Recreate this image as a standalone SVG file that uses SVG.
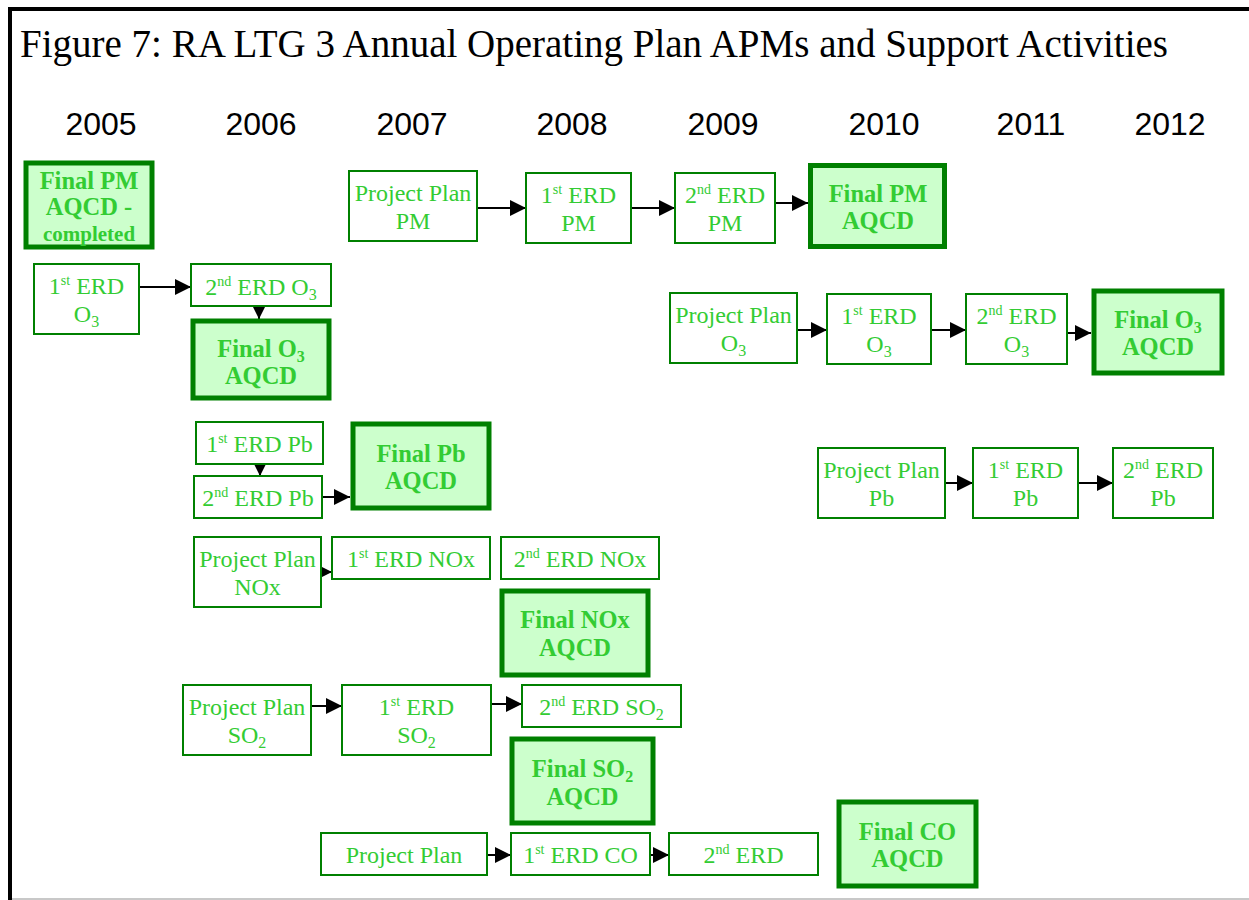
<svg xmlns="http://www.w3.org/2000/svg" width="1249" height="900" viewBox="0 0 1249 900">
<style>
.box{fill:#ffffff;stroke:#008000;stroke-width:2}
.fin{fill:#ccffcc;stroke:#008000;stroke-width:5}
.t{font-family:"Liberation Serif","Times New Roman",serif;font-size:24px;fill:#33cc33;text-anchor:middle}
.b{font-weight:bold;font-size:24.5px}
.sup{font-size:14px}
.sub{font-size:16px}
.yr{font-family:"Liberation Sans",Arial,sans-serif;font-size:32px;fill:#000;text-anchor:middle}
.ttl{font-family:"Liberation Serif","Times New Roman",serif;font-size:39px;fill:#000}
.c{stroke:#000;stroke-width:2;fill:none}
</style>
<defs>
<marker id="ah" markerWidth="16" markerHeight="16" refX="16" refY="8" orient="auto" markerUnits="userSpaceOnUse"><path d="M0,0 L16,8 L0,16 z" fill="#000"/></marker>
<marker id="ahs" markerWidth="12" markerHeight="12" refX="12" refY="6" orient="auto" markerUnits="userSpaceOnUse"><path d="M0,0 L12,6 L0,12 z" fill="#000"/></marker>
</defs>
<rect x="0" y="0" width="1249" height="900" fill="#fff"/>
<g id="frame">
<line x1="8" y1="9" x2="1249" y2="9" stroke="#000" stroke-width="4"/>
<line x1="10" y1="7" x2="10" y2="900" stroke="#000" stroke-width="4"/>
<line x1="12" y1="899" x2="1249" y2="899" stroke="#c8c8c8" stroke-width="2"/>
</g>
<text class="ttl" x="20" y="57">Figure 7: RA LTG 3 Annual Operating Plan APMs and Support Activities</text>
<g id="years">
<text class="yr" x="101" y="135">2005</text>
<text class="yr" x="261" y="135">2006</text>
<text class="yr" x="412" y="135">2007</text>
<text class="yr" x="572" y="135">2008</text>
<text class="yr" x="723" y="135">2009</text>
<text class="yr" x="884" y="135">2010</text>
<text class="yr" x="1031" y="135">2011</text>
<text class="yr" x="1170" y="135">2012</text>
</g>
<g id="connectors">
<line class="c" x1="139" y1="287" x2="191" y2="287" marker-end="url(#ah)"/>
<line class="c" x1="259" y1="306" x2="259" y2="319" marker-end="url(#ahs)"/>
<line class="c" x1="477" y1="208" x2="526" y2="208" marker-end="url(#ah)"/>
<line class="c" x1="631" y1="208" x2="675" y2="208" marker-end="url(#ah)"/>
<line class="c" x1="775" y1="203" x2="808" y2="203" marker-end="url(#ah)"/>
<line class="c" x1="797" y1="330" x2="827" y2="330" marker-end="url(#ah)"/>
<line class="c" x1="931" y1="330" x2="966" y2="330" marker-end="url(#ah)"/>
<line class="c" x1="1067" y1="333" x2="1091" y2="333" marker-end="url(#ah)"/>
<line class="c" x1="945" y1="483" x2="973" y2="483" marker-end="url(#ah)"/>
<line class="c" x1="1078" y1="483" x2="1113" y2="483" marker-end="url(#ah)"/>
<line class="c" x1="260" y1="464" x2="260" y2="476" marker-end="url(#ahs)"/>
<line class="c" x1="322" y1="497" x2="350" y2="497" marker-end="url(#ah)"/>
<line class="c" x1="321" y1="572" x2="332" y2="572" marker-end="url(#ahs)"/>
<line class="c" x1="311" y1="706" x2="342" y2="706" marker-end="url(#ah)"/>
<line class="c" x1="491" y1="704" x2="522" y2="704" marker-end="url(#ah)"/>
<line class="c" x1="487" y1="855" x2="511" y2="855" marker-end="url(#ah)"/>
<line class="c" x1="650" y1="855" x2="669" y2="855" marker-end="url(#ah)"/>
</g>
<g id="n1"><rect class="fin" x="26" y="163" width="126" height="84"/>
<text class="t b" x="89" y="189">Final PM</text><text class="t b" x="89" y="215">AQCD -</text><text class="t b" x="89" y="241" style="font-size:21px">completed</text></g>
<g id="n2"><rect class="box" x="34" y="264" width="105" height="70"/>
<text class="t" x="86.5" y="294">1<tspan class="sup" dy="-9">st</tspan><tspan dy="9"> ERD</tspan></text><text class="t" x="86.5" y="322">O<tspan class="sub" dy="5">3</tspan></text></g>
<g id="n3"><rect class="box" x="191" y="264" width="140" height="42"/>
<text class="t" x="261" y="295">2<tspan class="sup" dy="-9">nd</tspan><tspan dy="9"> ERD O</tspan><tspan class="sub" dy="5">3</tspan></text></g>
<g id="n4"><rect class="fin" x="193" y="321" width="136" height="77"/>
<text class="t b" x="261" y="357">Final O<tspan class="sub" dy="5">3</tspan></text><text class="t b" x="261" y="384">AQCD</text></g>
<g id="n5"><rect class="box" x="349" y="171" width="128" height="70"/>
<text class="t" x="413" y="201">Project Plan</text><text class="t" x="413" y="229">PM</text></g>
<g id="n6"><rect class="box" x="526" y="173" width="105" height="70"/>
<text class="t" x="578.5" y="203">1<tspan class="sup" dy="-9">st</tspan><tspan dy="9"> ERD</tspan></text><text class="t" x="578.5" y="231">PM</text></g>
<g id="n7"><rect class="box" x="675" y="173" width="100" height="70"/>
<text class="t" x="725" y="203">2<tspan class="sup" dy="-9">nd</tspan><tspan dy="9"> ERD</tspan></text><text class="t" x="725" y="231">PM</text></g>
<g id="n8"><rect class="fin" x="810.5" y="165.5" width="134" height="81"/>
<text class="t b" x="878" y="202">Final PM</text><text class="t b" x="878" y="229">AQCD</text></g>
<g id="n9"><rect class="box" x="670" y="293" width="127" height="70"/>
<text class="t" x="733.5" y="323">Project Plan</text><text class="t" x="733.5" y="351">O<tspan class="sub" dy="5">3</tspan></text></g>
<g id="n10"><rect class="box" x="827" y="294" width="104" height="70"/>
<text class="t" x="879" y="324">1<tspan class="sup" dy="-9">st</tspan><tspan dy="9"> ERD</tspan></text><text class="t" x="879" y="352">O<tspan class="sub" dy="5">3</tspan></text></g>
<g id="n11"><rect class="box" x="966" y="294" width="101" height="70"/>
<text class="t" x="1016.5" y="324">2<tspan class="sup" dy="-9">nd</tspan><tspan dy="9"> ERD</tspan></text><text class="t" x="1016.5" y="352">O<tspan class="sub" dy="5">3</tspan></text></g>
<g id="n12"><rect class="fin" x="1094" y="291" width="128" height="82"/>
<text class="t b" x="1158" y="328">Final O<tspan class="sub" dy="5">3</tspan></text><text class="t b" x="1158" y="355">AQCD</text></g>
<g id="n13"><rect class="box" x="818" y="448" width="127" height="70"/>
<text class="t" x="881.5" y="478">Project Plan</text><text class="t" x="881.5" y="506">Pb</text></g>
<g id="n14"><rect class="box" x="973" y="448" width="105" height="70"/>
<text class="t" x="1025.5" y="478">1<tspan class="sup" dy="-9">st</tspan><tspan dy="9"> ERD</tspan></text><text class="t" x="1025.5" y="506">Pb</text></g>
<g id="n15"><rect class="box" x="1113" y="448" width="100" height="70"/>
<text class="t" x="1163" y="478">2<tspan class="sup" dy="-9">nd</tspan><tspan dy="9"> ERD</tspan></text><text class="t" x="1163" y="506">Pb</text></g>
<g id="n16"><rect class="box" x="196" y="422" width="127" height="42"/>
<text class="t" x="259.5" y="452">1<tspan class="sup" dy="-9">st</tspan><tspan dy="9"> ERD Pb</tspan></text></g>
<g id="n17"><rect class="box" x="194" y="476" width="128" height="42"/>
<text class="t" x="258" y="506">2<tspan class="sup" dy="-9">nd</tspan><tspan dy="9"> ERD Pb</tspan></text></g>
<g id="n18"><rect class="fin" x="353" y="424" width="136" height="84"/>
<text class="t b" x="421" y="462">Final Pb</text><text class="t b" x="421" y="489">AQCD</text></g>
<g id="n19"><rect class="box" x="194" y="537" width="127" height="70"/>
<text class="t" x="257.5" y="567">Project Plan</text><text class="t" x="257.5" y="595">NOx</text></g>
<g id="n20"><rect class="box" x="332" y="537" width="158" height="42"/>
<text class="t" x="411" y="567">1<tspan class="sup" dy="-9">st</tspan><tspan dy="9"> ERD NOx</tspan></text></g>
<g id="n21"><rect class="box" x="501" y="537" width="158" height="42"/>
<text class="t" x="580" y="567">2<tspan class="sup" dy="-9">nd</tspan><tspan dy="9"> ERD NOx</tspan></text></g>
<g id="n22"><rect class="fin" x="502" y="591" width="146" height="84"/>
<text class="t b" x="575" y="628">Final NOx</text><text class="t b" x="575" y="656">AQCD</text></g>
<g id="n23"><rect class="box" x="183" y="685" width="128" height="70"/>
<text class="t" x="247" y="715">Project Plan</text><text class="t" x="247" y="743">SO<tspan class="sub" dy="5">2</tspan></text></g>
<g id="n24"><rect class="box" x="342" y="685" width="149" height="70"/>
<text class="t" x="416.5" y="715">1<tspan class="sup" dy="-9">st</tspan><tspan dy="9"> ERD</tspan></text><text class="t" x="416.5" y="743">SO<tspan class="sub" dy="5">2</tspan></text></g>
<g id="n25"><rect class="box" x="522" y="685" width="159" height="42"/>
<text class="t" x="601.5" y="715">2<tspan class="sup" dy="-9">nd</tspan><tspan dy="9"> ERD SO</tspan><tspan class="sub" dy="5">2</tspan></text></g>
<g id="n26"><rect class="fin" x="512" y="739" width="141" height="84"/>
<text class="t b" x="582.5" y="777">Final SO<tspan class="sub" dy="5">2</tspan></text><text class="t b" x="582.5" y="805">AQCD</text></g>
<g id="n27"><rect class="box" x="321" y="833" width="166" height="42"/>
<text class="t" x="404" y="863">Project Plan</text></g>
<g id="n28"><rect class="box" x="511" y="833" width="139" height="42"/>
<text class="t" x="580.5" y="863">1<tspan class="sup" dy="-9">st</tspan><tspan dy="9"> ERD CO</tspan></text></g>
<g id="n29"><rect class="box" x="669" y="833" width="149" height="42"/>
<text class="t" x="743.5" y="863">2<tspan class="sup" dy="-9">nd</tspan><tspan dy="9"> ERD</tspan></text></g>
<g id="n30"><rect class="fin" x="839" y="802" width="137" height="84"/>
<text class="t b" x="907.5" y="840">Final CO</text><text class="t b" x="907.5" y="867">AQCD</text></g>
</svg>
